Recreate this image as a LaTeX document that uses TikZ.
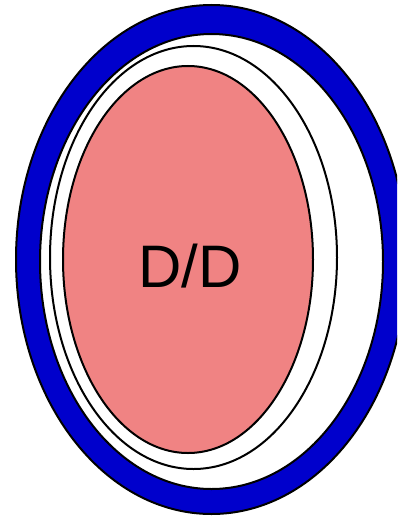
\documentclass[tikz,border=0pt]{standalone}
\usepackage{fontspec}
\setmainfont{Liberation Sans}
\definecolor{ringblue}{RGB}{0,0,204}
\definecolor{corepink}{RGB}{240,131,131}

\begin{document}
\begin{tikzpicture}[x=1pt,y=-1pt,
    ringline/.style={draw=black,line width=2pt},
    every node/.style={font=\fontsize{60}{72}\selectfont}]
  \useasboundingbox (0,0) rectangle (397,516);
  \clip (0,0) rectangle (397,516);
  % outer blue band
  \filldraw[ringline,fill=ringblue] (211.5,259.5) ellipse (195.5pt and 254.5pt);
  \filldraw[ringline,fill=white] (211.5,261.5) ellipse (171.5pt and 227.5pt);
  % thin inner ring
  \draw[ringline] (193.5,257.5) ellipse (143.5pt and 211.5pt);
  % core
  \filldraw[ringline,fill=corepink] (188,259.5) ellipse (125pt and 193.5pt);
  \node (core) at (190,266.5) {D/D};
\end{tikzpicture}
\end{document}
